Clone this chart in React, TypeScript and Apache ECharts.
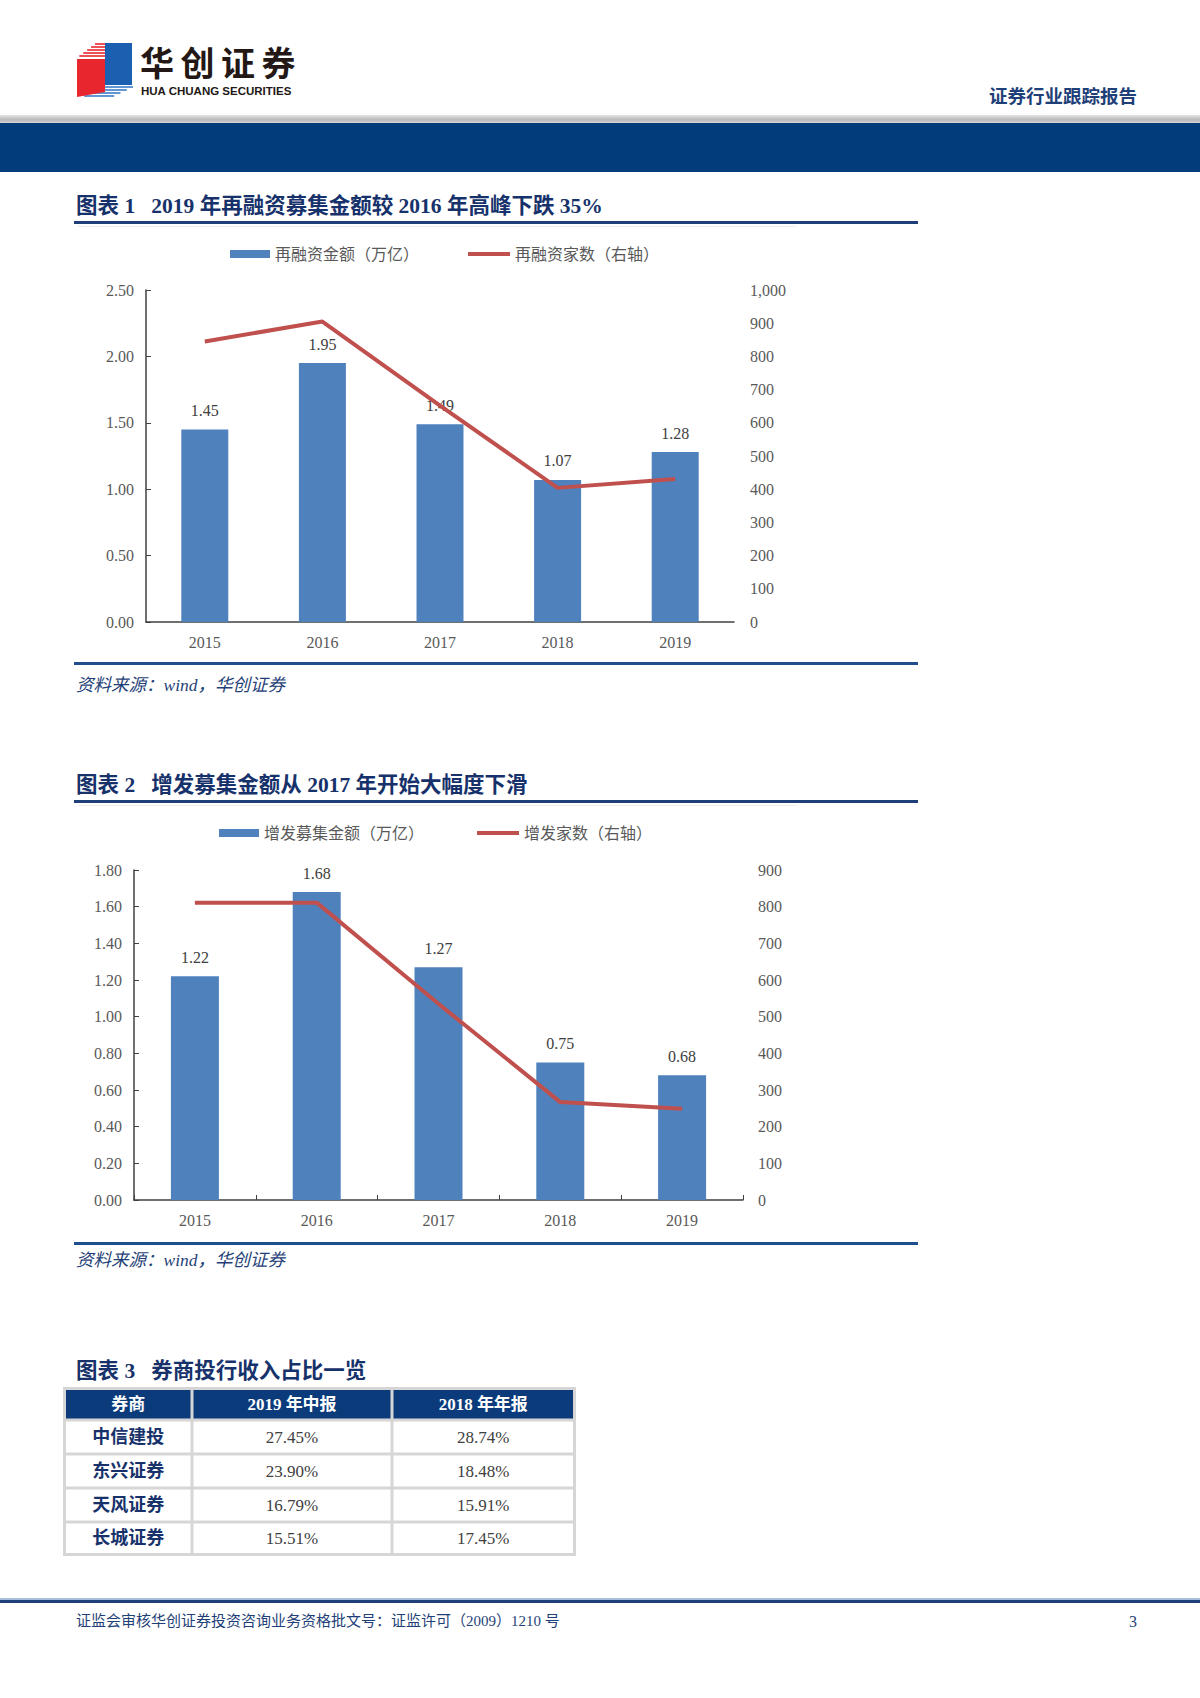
import React, { useEffect, useRef } from "react";
import * as echarts from "echarts";

// ---------- data ----------
const years = ["2015", "2016", "2017", "2018", "2019"];
const refinanceAmount = [1.45, 1.95, 1.49, 1.07, 1.28];
const refinanceCount = [845, 905, 652, 404, 431];
const placementAmount = [1.22, 1.68, 1.27, 0.75, 0.68];
const placementCount = [811, 811, 535, 267, 249];

const tableHeaders = ["券商", "2019 年中报", "2018 年年报"];
const brokers = ["中信建投", "东兴证券", "天风证券", "长城证券"];
const share2019H1 = ["27.45%", "23.90%", "16.79%", "15.51%"];
const share2018 = ["28.74%", "18.48%", "15.91%", "17.45%"];

const title1 = "图表 1   2019 年再融资募集金额较 2016 年高峰下跌 35%";
const title2 = "图表 2   增发募集金额从 2017 年开始大幅度下滑";
const title3 = "图表 3   券商投行收入占比一览";
const sourceText = "资料来源：wind，华创证券";
const footerText = "证监会审核华创证券投资咨询业务资格批文号：证监许可（2009）1210 号";

// ---------- styles ----------
const NAVY = "#1f3f78";
const BAR = "#4f81bd";
const LINE = "#c0504d";
const AXIS = "#404040";
const LABEL = "#595959";
const SERIF = "'Liberation Serif', 'Noto Sans CJK SC', serif";
const CJK = "'Liberation Serif', 'Noto Sans CJK SC', sans-serif";

function txt(x: number, y: number, text: string, o: any = {}) {
  const align = o.align || "left";
  return {
    type: "text",
    x,
    y,
    z: 10,
    style: {
      text,
      fill: o.fill || "#333",
      fontSize: o.fontSize || 14,
      fontFamily: o.fontFamily || CJK,
      fontWeight: o.fontWeight || "normal",
      fontStyle: o.fontStyle || "normal",
      align,
      textAlign: align,
      verticalAlign: "middle",
      textVerticalAlign: "middle",
    },
  };
}

function rect(x: number, y: number, w: number, h: number, fill: any, z = 1) {
  return { type: "rect", z, shape: { x, y, width: w, height: h }, style: { fill } };
}

function stripes(yTop: number, yBot: number, xTop: number, xBot: number, w: number, color: string) {
  const out: any[] = [];
  for (let y = yTop; y <= yBot; y += 3) {
    const t = (y - yTop) / (yBot - yTop);
    const xl = xTop + (xBot - xTop) * t;
    out.push({
      type: "line",
      z: 5,
      shape: { x1: xl, y1: y, x2: xl + w, y2: y },
      style: { stroke: color, lineWidth: 1.6 },
    });
  }
  return out;
}

function buildGraphics() {
  const g: any[] = [];
  // header
  g.push(...stripes(44, 57, 95, 78, 30, "#e8262d"));
  g.push({ type: "polygon", z: 6, shape: { points: [[77, 59], [105, 59], [105, 92], [77, 97]] }, style: { fill: "#e8262d" } });
  g.push({ type: "polygon", z: 6, shape: { points: [[105, 43], [132, 43], [132, 85], [105, 85]] }, style: { fill: "#1b5fb0" } });
  g.push(...stripes(87, 98, 103, 80, 30, "#3a7cc9"));
  const logoChars = ["华", "创", "证", "券"];
  logoChars.forEach((c, i) =>
    g.push(txt(140 + i * 40.5, 61, c, { fontSize: 34, fontWeight: "bold", fill: "#231815", fontFamily: "'Noto Sans CJK SC', sans-serif" }))
  );
  g.push(txt(141, 91, "HUA CHUANG SECURITIES", { fontSize: 11.5, fontWeight: "bold", fill: "#231815", fontFamily: "'Liberation Sans', sans-serif" }));
  g.push(txt(1137, 95, "证券行业跟踪报告", { align: "right", fontSize: 18.5, fontWeight: "bold", fill: NAVY, fontFamily: "'Noto Sans CJK SC', sans-serif" }));
  g.push(
    rect(0, 115, 1200, 8, {
      type: "linear", x: 0, y: 0, x2: 0, y2: 1,
      colorStops: [
        { offset: 0, color: "#e4e4e4" },
        { offset: 0.6, color: "#b8b8b8" },
        { offset: 1, color: "#d6d6d6" },
      ],
    })
  );
  g.push(rect(0, 123, 1200, 49, "#023c7b"));

  // chart 1 frame
  g.push(txt(76, 206, title1, { fontSize: 21.5, fontWeight: "bold", fill: "#17326b" }));
  g.push(rect(74, 221, 844, 3, NAVY));
  g.push(rect(78, 226, 718, 1, "#ececec"));
  g.push(rect(74, 662, 844, 3, "#1f4e8c"));
  g.push(txt(76, 685, sourceText, { fontSize: 17.5, fontStyle: "italic", fill: NAVY }));

  // chart 2 frame
  g.push(txt(76, 785, title2, { fontSize: 21.5, fontWeight: "bold", fill: "#17326b" }));
  g.push(rect(74, 800, 844, 3, NAVY));
  g.push(rect(78, 805, 718, 1, "#ececec"));
  g.push(rect(74, 1242, 844, 3, "#1f4e8c"));
  g.push(txt(76, 1260, sourceText, { fontSize: 17.5, fontStyle: "italic", fill: NAVY }));

  // table
  g.push(txt(76, 1371, title3, { fontSize: 21.5, fontWeight: "bold", fill: "#17326b" }));
  const colEdges = [63, 192, 392, 576];
  const rowEdges = [1387, 1420, 1454, 1488, 1522, 1556];
  g.push(rect(63, 1387, 513, 169, "#d6d6d6", 2));
  const rows = [tableHeaders, ...brokers.map((b, i) => [b, share2019H1[i], share2018[i]])];
  rows.forEach((row, r) => {
    const y0 = rowEdges[r] + (r === 0 ? 3 : 1.5);
    const y1 = rowEdges[r + 1] - (r === rows.length - 1 ? 3 : 1.5);
    row.forEach((cell, c) => {
      const x0 = colEdges[c] + (c === 0 ? 3 : 1.5);
      const x1 = colEdges[c + 1] - (c === row.length - 1 ? 3 : 1.5);
      g.push(rect(x0, y0, x1 - x0, y1 - y0, r === 0 ? "#0c3b7c" : "#ffffff", 3));
      const cx = (x0 + x1) / 2;
      const cy = (y0 + y1) / 2;
      if (r === 0) {
        g.push(txt(cx, cy, cell, { align: "center", fontSize: 17, fontWeight: "bold", fill: "#ffffff" }));
      } else if (c === 0) {
        g.push(txt(cx, cy, cell, { align: "center", fontSize: 18, fontWeight: "bold", fill: "#17326b" }));
      } else {
        g.push(txt(cx, cy, cell, { align: "center", fontSize: 17, fill: "#404040", fontFamily: SERIF }));
      }
    });
  });

  // footer
  g.push(rect(0, 1598, 1200, 2, "#a9bfdc"));
  g.push(rect(0, 1600, 1200, 3, NAVY));
  g.push(txt(76, 1621, footerText, { fontSize: 15, fill: NAVY }));
  g.push(txt(1133, 1621, "3", { align: "center", fontSize: 16, fill: NAVY, fontFamily: SERIF }));
  return g;
}

function legendItem(name: string, left: number, top: number, w: number, h: number) {
  return {
    data: [{ name, icon: "rect" }],
    left,
    top,
    itemWidth: w,
    itemHeight: h,
    itemGap: 5,
    selectedMode: false,
    textStyle: { color: LABEL, fontSize: 16, fontFamily: CJK },
  };
}

const axisLabel = { color: LABEL, fontSize: 16, fontFamily: SERIF };

function leftAxis(grid: number, max: number, interval: number) {
  return {
    gridIndex: grid,
    type: "value",
    min: 0,
    max,
    interval,
    axisLine: { show: true, lineStyle: { color: AXIS, width: 1.5 } },
    axisTick: { show: true, inside: true, length: 5, lineStyle: { color: AXIS } },
    splitLine: { show: false },
    axisLabel: { ...axisLabel, margin: 12, formatter: (v: number) => v.toFixed(2) },
  };
}

function rightAxis(grid: number, max: number, margin: number) {
  return {
    gridIndex: grid,
    type: "value",
    position: "right",
    min: 0,
    max,
    interval: 100,
    axisLine: { show: false },
    axisTick: { show: false },
    splitLine: { show: false },
    axisLabel: { ...axisLabel, margin, formatter: (v: number) => v.toLocaleString("en-US") },
  };
}

function barLabel() {
  return {
    show: true,
    position: "top",
    distance: 11,
    color: AXIS,
    fontSize: 16,
    fontFamily: SERIF,
    formatter: (p: any) => Number(p.value).toFixed(2),
  };
}

export default function App() {
  const ref = useRef<HTMLDivElement>(null);
  useEffect(() => {
    if (!ref.current) return;
    const chart = echarts.init(ref.current, undefined, { renderer: "svg" });
    chart.setOption({
      animation: false,
      backgroundColor: "#ffffff",
      legend: [
        legendItem("再融资金额（万亿）", 225, 241, 40, 8),
        legendItem("再融资家数（右轴）", 463, 241, 42, 4),
        legendItem("增发募集金额（万亿）", 214, 820, 40, 8),
        legendItem("增发家数（右轴）", 472, 820, 42, 4),
      ],
      grid: [
        { left: 146, top: 290, width: 588, height: 332 },
        { left: 134, top: 870, width: 609, height: 330 },
      ],
      xAxis: [
        {
          gridIndex: 0,
          type: "category",
          data: years,
          axisLine: { lineStyle: { color: AXIS, width: 1.5 } },
          axisTick: { show: false },
          axisLabel: { ...axisLabel, margin: 12 },
        },
        {
          gridIndex: 1,
          type: "category",
          data: years,
          axisLine: { lineStyle: { color: AXIS, width: 1.5 } },
          axisTick: { show: true, inside: true, length: 5, lineStyle: { color: AXIS } },
          axisLabel: { ...axisLabel, margin: 12 },
        },
      ],
      yAxis: [leftAxis(0, 2.5, 0.5), rightAxis(0, 1000, 16), leftAxis(1, 1.8, 0.2), rightAxis(1, 900, 15)],
      series: [
        {
          name: "再融资金额（万亿）",
          type: "bar",
          xAxisIndex: 0,
          yAxisIndex: 0,
          barWidth: 47,
          itemStyle: { color: BAR },
          label: barLabel(),
          data: refinanceAmount,
        },
        {
          name: "再融资家数（右轴）",
          type: "line",
          xAxisIndex: 0,
          yAxisIndex: 1,
          symbol: "none",
          lineStyle: { color: LINE, width: 4 },
          itemStyle: { color: LINE },
          z: 3,
          data: refinanceCount,
        },
        {
          name: "增发募集金额（万亿）",
          type: "bar",
          xAxisIndex: 1,
          yAxisIndex: 2,
          barWidth: 48,
          itemStyle: { color: BAR },
          label: barLabel(),
          data: placementAmount,
        },
        {
          name: "增发家数（右轴）",
          type: "line",
          xAxisIndex: 1,
          yAxisIndex: 3,
          symbol: "none",
          lineStyle: { color: LINE, width: 4 },
          itemStyle: { color: LINE },
          z: 3,
          data: placementCount,
        },
      ],
      graphic: buildGraphics(),
    });
    return () => chart.dispose();
  }, []);
  return (
    <div
      ref={ref}
      style={{ position: "absolute", left: 0, top: 0, width: 1200, height: 1698, background: "#fff" }}
    />
  );
}
